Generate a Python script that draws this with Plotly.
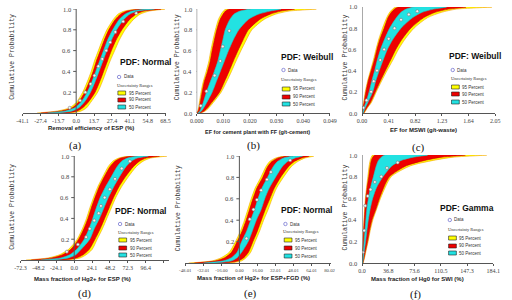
import plotly.graph_objects as go

W, H = 512, 300

# cumulative probability levels at which band edges were read
P = [0, 0.02, 0.05, 0.1, 0.2, 0.3, 0.4, 0.5, 0.6, 0.7, 0.8, 0.9, 0.95, 0.98, 1.0]

# ---- (a) Removal efficiency of ESP (%) ----
a_lo95 = [-30, -14, -5, 0, 5, 8.5, 11.5, 14, 17, 20, 23.5, 28.5, 32, 37, 48]
a_lo90 = [-27, -11, -3, 1.5, 6.5, 10, 13, 15.5, 18.5, 21.5, 25, 30, 34, 39, 51]
a_lo50 = [-22, -8, -1, 3.5, 8.5, 12, 15, 18, 21, 24, 28, 33, 37.5, 43, 56]
a_hi50 = [-16, -3, 2, 6, 11, 14.5, 17.5, 20.5, 23.5, 27, 31, 36.5, 41, 47, 60]
a_hi90 = [-8, 1, 5, 9, 14.5, 18, 21, 24, 27, 30.5, 35, 41, 46, 52, 65]
a_hi95 = [-4, 4, 8, 11, 16.5, 20, 23, 26, 29.5, 33, 37.5, 44, 49, 56, 68]
a_dx = [-5, 3, 7, 11, 14, 17, 20, 23, 26, 30, 36, 46]
a_dp = [0.05, 0.12, 0.2, 0.28, 0.36, 0.45, 0.52, 0.6, 0.68, 0.78, 0.88, 0.96]
a_ticks = [-41.1, -27.4, -13.7, 0.0, 13.7, 27.4, 41.1, 54.8, 68.5]
a_ticktext = ["-41.1", "-27.4", "-13.7", "0.0", "13.7", "27.4", "41.1", "54.8", "68.5"]

# ---- (b) EF for cement plant with FF (g/t-cement) ----
b_lo95 = [0.0000, 0.0004, 0.0007, 0.0010, 0.0016, 0.0024, 0.0035, 0.0045, 0.0052, 0.0060, 0.0069, 0.0080, 0.0090, 0.0098, 0.0108]
b_lo90 = [0.0002, 0.0006, 0.0009, 0.0013, 0.0020, 0.0028, 0.0040, 0.0050, 0.0057, 0.0065, 0.0074, 0.0086, 0.0097, 0.0106, 0.0120]
b_lo50 = [0.0005, 0.0012, 0.0017, 0.0024, 0.0036, 0.0050, 0.0065, 0.0078, 0.0087, 0.0096, 0.0105, 0.0122, 0.0137, 0.0160, 0.0200]
b_hi50 = [0.0008, 0.0018, 0.0026, 0.0037, 0.0057, 0.0072, 0.0087, 0.0102, 0.0117, 0.0134, 0.0155, 0.0190, 0.0227, 0.0270, 0.0310]
b_hi90 = [0.0012, 0.0028, 0.0040, 0.0055, 0.0084, 0.0102, 0.0119, 0.0135, 0.0152, 0.0170, 0.0190, 0.0232, 0.0270, 0.0310, 0.0360]
b_hi95 = [0.0015, 0.0032, 0.0045, 0.0061, 0.0090, 0.0110, 0.0128, 0.0145, 0.0163, 0.0182, 0.0203, 0.0248, 0.0290, 0.0340, 0.0440]
b_dx = [0.0015, 0.0036, 0.0066, 0.0087, 0.0096, 0.0120]
b_dp = [0.07, 0.21, 0.36, 0.50, 0.64, 0.79]
b_ticks = [0.0, 0.0098, 0.0196, 0.0294, 0.0392, 0.049]
b_ticktext = ["0.000", "0.010", "0.020", "0.030", "0.040", "0.049"]

# ---- (c) EF for MSWI (g/t-waste) ----
c_lo95 = [0.000, 0.005, 0.012, 0.025, 0.050, 0.085, 0.130, 0.175, 0.215, 0.260, 0.315, 0.380, 0.425, 0.470, 0.520]
c_lo90 = [0.000, 0.008, 0.016, 0.032, 0.060, 0.095, 0.142, 0.190, 0.230, 0.278, 0.340, 0.400, 0.450, 0.500, 0.560]
c_lo50 = [0.005, 0.015, 0.030, 0.060, 0.110, 0.150, 0.195, 0.235, 0.285, 0.350, 0.425, 0.530, 0.600, 0.680, 0.800]
c_hi50 = [0.015, 0.030, 0.050, 0.090, 0.165, 0.210, 0.265, 0.325, 0.390, 0.480, 0.600, 0.780, 0.925, 1.100, 1.300]
c_hi90 = [0.025, 0.045, 0.075, 0.130, 0.205, 0.280, 0.360, 0.440, 0.520, 0.620, 0.750, 0.950, 1.125, 1.330, 1.600]
c_hi95 = [0.035, 0.055, 0.085, 0.145, 0.220, 0.300, 0.385, 0.475, 0.560, 0.665, 0.800, 1.010, 1.225, 1.450, 2.000]
c_dx = [0.02, 0.07, 0.14, 0.18, 0.23, 0.28, 0.34, 0.41, 0.50, 0.60, 0.72, 0.85]
c_dp = [0.05, 0.12, 0.2, 0.3, 0.4, 0.5, 0.6, 0.7, 0.8, 0.88, 0.93, 0.96]
c_ticks = [0.0, 0.41, 0.82, 1.23, 1.64, 2.05]
c_ticktext = ["0.00", "0.41", "0.82", "1.23", "1.64", "2.05"]

# ---- (d) Mass fraction of Hg2+ for ESP (%) ----
d_lo95 = [-65, -35, -20, -8, 4, 11, 16.5, 21, 26, 31.5, 38.5, 46, 52, 60, 75]
d_lo90 = [-58, -30, -16, -5, 6, 13, 18.5, 23, 28, 33.5, 40.5, 48.5, 55, 63, 80]
d_lo50 = [-45, -18, -6, 3, 13.5, 20, 25, 29.7, 35, 42, 50, 58, 64, 72, 88]
d_hi50 = [-30, -8, 2, 9, 21, 27, 34, 40, 46, 53, 61, 70, 77, 85, 100]
d_hi90 = [-15, 3, 12, 20, 28, 35, 41, 47, 53, 60, 69, 80, 88, 97, 115]
d_hi95 = [-8, 8, 16, 24, 31, 38, 44, 50, 56, 63.5, 73, 84, 93, 103, 125]
d_dx = [-10, 5, 16, 21, 27, 33, 36, 41, 48, 55, 64, 75]
d_dp = [0.08, 0.15, 0.22, 0.3, 0.38, 0.45, 0.52, 0.6, 0.68, 0.78, 0.88, 0.95]
d_ticks = [-72.3, -48.2, -24.1, 0.0, 24.1, 48.2, 72.3, 96.4, 120.5]
d_ticktext = ["-72.3", "-48.2", "-24.1", "0.0", "24.1", "48.2", "72.3", "96.4", ""]

# ---- (e) Mass fraction of Hg2+ for ESP+FGD (%) ----
e_lo95 = [-45, -24, -16, -9, -3.5, 1, 4.5, 7.5, 10.5, 14, 19, 23.5, 27, 32, 40]
e_lo90 = [-40, -21, -13, -7, -2, 2.5, 6, 9, 12, 15.5, 20.7, 25, 29, 34, 43]
e_lo50 = [-32, -14, -7, -2, 2, 6.5, 10, 13.5, 16.5, 20, 25, 30, 34, 39, 48]
e_hi50 = [-22, -7, -2, 2, 7.8, 11.5, 15, 19.3, 22.5, 26.5, 32, 38, 43, 49, 56]
e_hi90 = [-12, -1, 4, 8, 12, 16, 19.5, 23, 27, 31, 36.5, 43.5, 49, 55, 62]
e_hi95 = [-7, 2, 6, 10, 14, 18, 21.5, 25.5, 29, 33, 39, 46, 52, 58, 66]
e_dx = [6.3, 9.2, 12.5, 15.6, 19.3, 24.5, 28, 45]
e_dp = [0.23, 0.41, 0.50, 0.59, 0.68, 0.78, 0.85, 0.96]
e_ticks = [-48.01, -32.01, -16.00, 0.00, 16.00, 32.01, 48.01, 64.01, 80.02]
e_ticktext = ["-48.01", "-32.01", "-16.00", "0.00", "16.00", "32.01", "48.01", "64.01", "80.02"]

# ---- (f) Mass fraction of Hg0 for SWI (%) ----
f_lo95 = [0.0, 0.2, 0.4, 0.8, 1.4, 2.0, 2.8, 3.6, 4.8, 6.4, 8.2, 10.0, 11.4, 13.0, 15.0]
f_lo90 = [0.2, 0.4, 0.6, 1.0, 1.8, 2.4, 3.2, 4.2, 5.4, 7.2, 9.5, 11.5, 13.0, 15.0, 18.0]
f_lo50 = [0.5, 0.8, 1.2, 1.8, 3.0, 4.2, 5.4, 6.8, 9.0, 12.0, 16.0, 20.0, 23.0, 27.0, 32.0]
f_hi50 = [0.8, 1.2, 1.8, 2.8, 5.0, 6.8, 8.8, 11.4, 15.0, 20.5, 29.5, 42.0, 55.0, 72.0, 92.0]
f_hi90 = [1.2, 2.0, 3.0, 4.5, 7.7, 10.5, 14.0, 19.5, 24.5, 30.5, 38.6, 62.0, 88.0, 112.0, 145.0]
f_hi95 = [1.6, 2.4, 3.6, 5.2, 8.6, 11.5, 15.2, 20.5, 26.0, 32.5, 41.0, 68.0, 100.0, 128.0, 175.0]
f_dx = [1.0, 3.0, 4.5, 8.0, 12.0, 18.0, 27.0, 35.0, 50.0]
f_dp = [0.1, 0.3, 0.53, 0.62, 0.68, 0.75, 0.8, 0.88, 0.93]
f_ticks = [0.0, 36.8, 73.6, 110.5, 147.3, 184.1]
f_ticktext = ["0.0", "36.8", "73.6", "110.5", "147.3", "184.1"]

y_ticks_full = [0.0, 0.2, 0.4, 0.6, 0.8, 1.0]
y_ticks_nozero = [0.2, 0.4, 0.6, 0.8, 1.0]

x_titles = ["Removal efficiency of ESP (%)", "EF for cement plant with FF (g/t-cement)",
            "EF for MSWI (g/t-waste)", "Mass fraction of Hg2+ for ESP (%)",
            "Mass fraction of Hg2+ for ESP+FGD (%)", "Mass fraction of Hg0 for SWI (%)"]
pdf_names = ["PDF: Normal", "PDF: Weibull", "PDF: Weibull", "PDF: Normal", "PDF: Normal", "PDF: Gamma"]
panel_tags = ["(a)", "(b)", "(c)", "(d)", "(e)", "(f)"]
legend_labels = ["95 Percent", "90 Percent", "50 Percent"]

YELLOW, RED, CYAN = "#FFFF00", "#EE0000", "#22E2E2"
AX = "#555555"

panels = [
    dict(b=(a_lo95, a_lo90, a_lo50, a_hi50, a_hi90, a_hi95), d=(a_dx, a_dp), t=(a_ticks, a_ticktext),
         xpx=(16, 163), ypx=(9, 113), xr=(-41.1, 68.5), yt=y_ticks_nozero, tfs=6,
         ylab=(6, 57), xt=(86, 128), tag=(70, 145), pdf=(142, 62), leg=(112, [77, 85, 93, 100, 107])),
    dict(b=(b_lo95, b_lo90, b_lo50, b_hi50, b_hi90, b_hi95), d=(b_dx, b_dp), t=(b_ticks, b_ticktext),
         xpx=(195, 332), ypx=(9, 113), xr=(0, 0.049), yt=y_ticks_full, tfs=6,
         ylab=(176, 57), xt=(258, 132), tag=(253, 145), pdf=(308, 57), leg=(281, [70, 80, 89, 97, 104])),
    dict(b=(c_lo95, c_lo90, c_lo50, c_hi50, c_hi90, c_hi95), d=(c_dx, c_dp), t=(c_ticks, c_ticktext),
         xpx=(365, 502), ypx=(7, 113), xr=(0, 2.05), yt=y_ticks_full, tfs=6,
         ylab=(347, 58), xt=(428, 130), tag=(423, 147), pdf=(481, 56), leg=(455, [70, 78, 87, 94, 102])),
    dict(b=(d_lo95, d_lo90, d_lo50, d_hi50, d_hi90, d_hi95), d=(d_dx, d_dp), t=(d_ticks, d_ticktext),
         xpx=(14, 166.7), ypx=(156, 260), xr=(-72.3, 128), yt=y_ticks_nozero, tfs=6,
         ylab=(6, 207), xt=(78, 279), tag=(80, 293), pdf=(137, 211), leg=(113, [224, 232, 240, 248, 255])),
    dict(b=(e_lo95, e_lo90, e_lo50, e_hi50, e_hi90, e_hi95), d=(e_dx, e_dp), t=(e_ticks, e_ticktext),
         xpx=(183.3, 333), ypx=(156, 263), xr=(-48.01, 81.2), yt=y_ticks_nozero, tfs=4.8,
         ylab=(176, 208), xt=(253, 278), tag=(250, 293), pdf=(308, 210), leg=(283, [224, 231, 240, 248, 256])),
    dict(b=(f_lo95, f_lo90, f_lo50, f_hi50, f_hi90, f_hi95), d=(f_dx, f_dp), t=(f_ticks, f_ticktext),
         xpx=(365, 500), ypx=(155, 263), xr=(0, 184.1), yt=y_ticks_full, tfs=6,
         ylab=(347, 208), xt=(422, 279), tag=(420, 294), pdf=(473, 208), leg=(452, [220, 229, 238, 246, 253])),
]

fig = go.Figure()
annotations, shapes = [], []
layout = {}

def px(x):
    return x / W

def py(y):
    return 1 - y / H

def note(x, y, text, font, xanchor="center", angle=0):
    annotations.append(dict(x=px(x), y=py(y), xref="paper", yref="paper", text=text, showarrow=False,
                            xanchor=xanchor, yanchor="middle", textangle=angle, font=font,
                            borderpad=0))

for i, pn in enumerate(panels):
    k = "" if i == 0 else str(i + 1)
    xa, ya = "x" + k, "y" + k
    lo95, lo90, lo50, hi50, hi90, hi95 = pn["b"]
    for lo, hi, col, edge in [(lo95, hi95, YELLOW, "#F5A000"), (lo90, hi90, RED, "#CC0000"),
                              (lo50, hi50, CYAN, "#22CCCC")]:
        fig.add_trace(go.Scatter(x=list(lo) + list(hi)[::-1], y=P + P[::-1], mode="lines",
                                 fill="toself", fillcolor=col,
                                 line=dict(width=0.6, color=edge, shape="spline", smoothing=0.7),
                                 xaxis=xa, yaxis=ya, hoverinfo="skip", showlegend=False))
    dx, dp = pn["d"]
    fig.add_trace(go.Scatter(x=dx, y=dp, mode="markers", xaxis=xa, yaxis=ya, showlegend=False,
                             marker=dict(symbol="circle", size=3, color="#F4F4F4",
                                         line=dict(width=0.6, color="#777777"))))
    x0, x1 = pn["xpx"]
    yt, yb = pn["ypx"]
    xr = pn["xr"]
    tv, tt = pn["t"]
    layout["xaxis" + k] = dict(domain=[px(x0), px(x1)], range=list(xr), anchor=ya,
                               tickvals=tv, ticktext=tt, showline=True, linecolor=AX, linewidth=1,
                               ticks="outside", ticklen=2, tickcolor=AX, showgrid=False, zeroline=False,
                               tickfont=dict(family="Liberation Serif", size=pn["tfs"], color="#444444"))
    layout["yaxis" + k] = dict(domain=[py(yb), py(yt)], range=[0, 1.0], anchor=xa, visible=False,
                               showgrid=False, zeroline=False)
    # y axis drawn at x = 0 in data coordinates
    shapes.append(dict(type="line", xref=xa, yref=ya, x0=0, x1=0, y0=0, y1=1,
                       line=dict(color=AX, width=1), layer="above"))
    for v in pn["yt"]:
        shapes.append(dict(type="line", xref=xa, yref=ya, xsizemode="pixel", xanchor=0, x0=-3, x1=0,
                           y0=v, y1=v, line=dict(color=AX, width=1), layer="above"))
        annotations.append(dict(x=0, y=v, xref=xa, yref=ya, text="%.1f" % v, showarrow=False,
                                xanchor="right", yanchor="middle", xshift=-4, borderpad=0,
                                font=dict(family="Liberation Serif", size=6.5, color="#444444")))
    note(pn["ylab"][0], pn["ylab"][1], "Cumulative Probability",
         dict(family="Liberation Mono", size=6.5, color="#333333"), angle=-90)
    note(pn["xt"][0], pn["xt"][1], "<b>%s</b>" % x_titles[i],
         dict(family="Liberation Sans", size=6 if i != 1 else 5.5, color="#222222"))
    note(pn["tag"][0], pn["tag"][1], panel_tags[i],
         dict(family="Liberation Serif", size=11, color="#111111"))
    note(pn["pdf"][0], pn["pdf"][1], "<b>%s</b>" % pdf_names[i],
         dict(family="Liberation Sans", size=8.5, color="#111111"))
    L, rows = pn["leg"]
    shapes.append(dict(type="circle", xref="paper", yref="paper", x0=px(L + 1.5), x1=px(L + 5),
                       y0=py(rows[0] + 1.7), y1=py(rows[0] - 1.7), line=dict(color="#6666CC", width=0.7)))
    note(L + 7, rows[0], "Data", dict(family="Liberation Sans", size=4.5, color="#333333"), xanchor="left")
    note(L, rows[1], "Uncertainty Ranges", dict(family="Liberation Serif", size=4.5, color="#333333"),
         xanchor="left")
    for lab, col, r in zip(legend_labels, [YELLOW, RED, CYAN], rows[2:]):
        shapes.append(dict(type="rect", xref="paper", yref="paper", x0=px(L + 2), x1=px(L + 10),
                           y0=py(r + 2), y1=py(r - 2), fillcolor=col, line=dict(color="#222222", width=0.6)))
        note(L + 12, r, lab, dict(family="Liberation Sans", size=4.5, color="#333333"), xanchor="left")

fig.update_layout(width=W, height=H, margin=dict(l=0, r=0, t=0, b=0), paper_bgcolor="white",
                  plot_bgcolor="white", showlegend=False, annotations=annotations, shapes=shapes, **layout)
fig.write_html("out.html")
